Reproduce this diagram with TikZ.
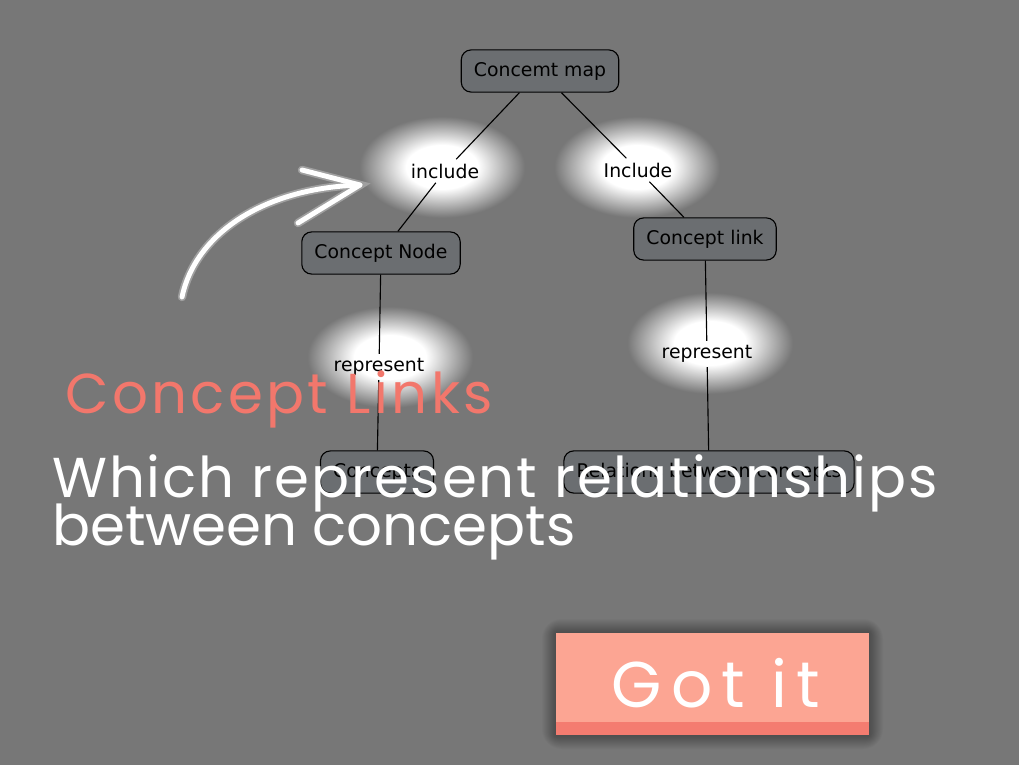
\documentclass[tikz,border=0pt]{standalone}
\usepackage{fontspec}
\setmainfont{DejaVu Sans}
\newfontfamily\chalkfont{Poppins}

\definecolor{fon}{HTML}{777777}
\definecolor{uzel}{HTML}{6B6E71}
\definecolor{losos}{HTML}{F2776C}
\definecolor{knopka}{HTML}{FCA593}
\definecolor{knopkaniz}{HTML}{F47C70}

% свечение под подписями связей
\pgfdeclareradialshading{svet}{\pgfpoint{0bp}{0bp}}{color(0bp)=(white); color(10bp)=(white); color(23bp)=(fon); color(25bp)=(fon); color(50bp)=(fon)}

\tikzset{
  conceptbox/.style={draw=black, line width=0.8pt, fill=uzel, rounded corners=7pt,
    minimum height=30pt, inner xsep=9pt, font=\fontsize{13.4}{16}\selectfont},
  linkword/.style={inner sep=3pt, font=\fontsize{13.4}{16}\selectfont},
  linkline/.style={black, line width=0.8pt},
  chalk/.style={inner sep=0pt, font=\chalkfont\fontsize{40}{40}\selectfont}
}

\begin{document}
\begin{tikzpicture}[x=0.25mm, y=-0.25mm]

% Фон
\fill[fon] (0,0) rectangle (1019,765);
\useasboundingbox (0,0) rectangle (1019,765);

% Свечение
\foreach \x/\y in {442/167, 637/167, 390/357, 710/343}
    \shade[shading=svet] (\x,\y) ellipse (90 and 55);

% Понятия
\node[conceptbox] (map) at (540,71) {Concemt map};
\node[conceptbox] (cnode) at (381,253) {Concept Node};
\node[conceptbox] (clink) at (705,239) {Concept link};
\node[conceptbox] (concepts) at (377,472) {Concepts};
\node[conceptbox] (relations) at (709,472) {Relations between concepts};

% Связи
\node[linkword] (inc1) at (445,171) {include};
\node[linkword] (inc2) at (638,170) {Include};
\node[linkword] (rep1) at (379,367) {represent};
\node[linkword] (rep2) at (707,354) {represent};

\draw[linkline] (map) -- (inc1);
\draw[linkline] (inc1) -- (cnode);
\draw[linkline] (map) -- (inc2);
\draw[linkline] (inc2) -- (clink);
\draw[linkline] (cnode) -- (rep1);
\draw[linkline] (rep1) -- (concepts);
\draw[linkline] (clink) -- (rep2);
\draw[linkline] (rep2) -- (relations);

% Стрелка
\coordinate (tip) at (360,185);
\draw[gray!75, line width=6pt, line cap=round] (182,297) .. controls (195,235) and (262,188) .. (tip);
\draw[gray!75, line width=6pt, line cap=round] (302,170) -- (tip) -- (298,223);
\draw[white, line width=3.5pt, line cap=round] (182,297) .. controls (195,235) and (262,188) .. (tip);
\draw[white, line width=3.5pt, line cap=round, line join=round] (302,170) -- (tip) -- (298,223);

% Надписи
\node[chalk, text=losos, anchor=base west] (title) at (65,413) {\addfontfeature{LetterSpace=6}Concept Links};
\node[chalk, text=white, anchor=base west] (line1) at (52,497) {\addfontfeature{LetterSpace=3.4}Which represent relationships};
\node[chalk, text=white, anchor=base west] (line2) at (52,545) {between concepts};

% Кнопка
\foreach \d in {1,...,14}
    \fill[black, opacity=0.025, rounded corners=\d pt] (556-\d,633-\d) rectangle (869+\d,735+\d);
\fill[knopka] (556,633) rectangle (869,735);
\fill[knopkaniz] (556,722) rectangle (869,735);
\node[chalk, text=white] (gotit) at (716,683) {\fontsize{46}{46}\selectfont\addfontfeature{LetterSpace=14}Got it};

\end{tikzpicture}
\end{document}
